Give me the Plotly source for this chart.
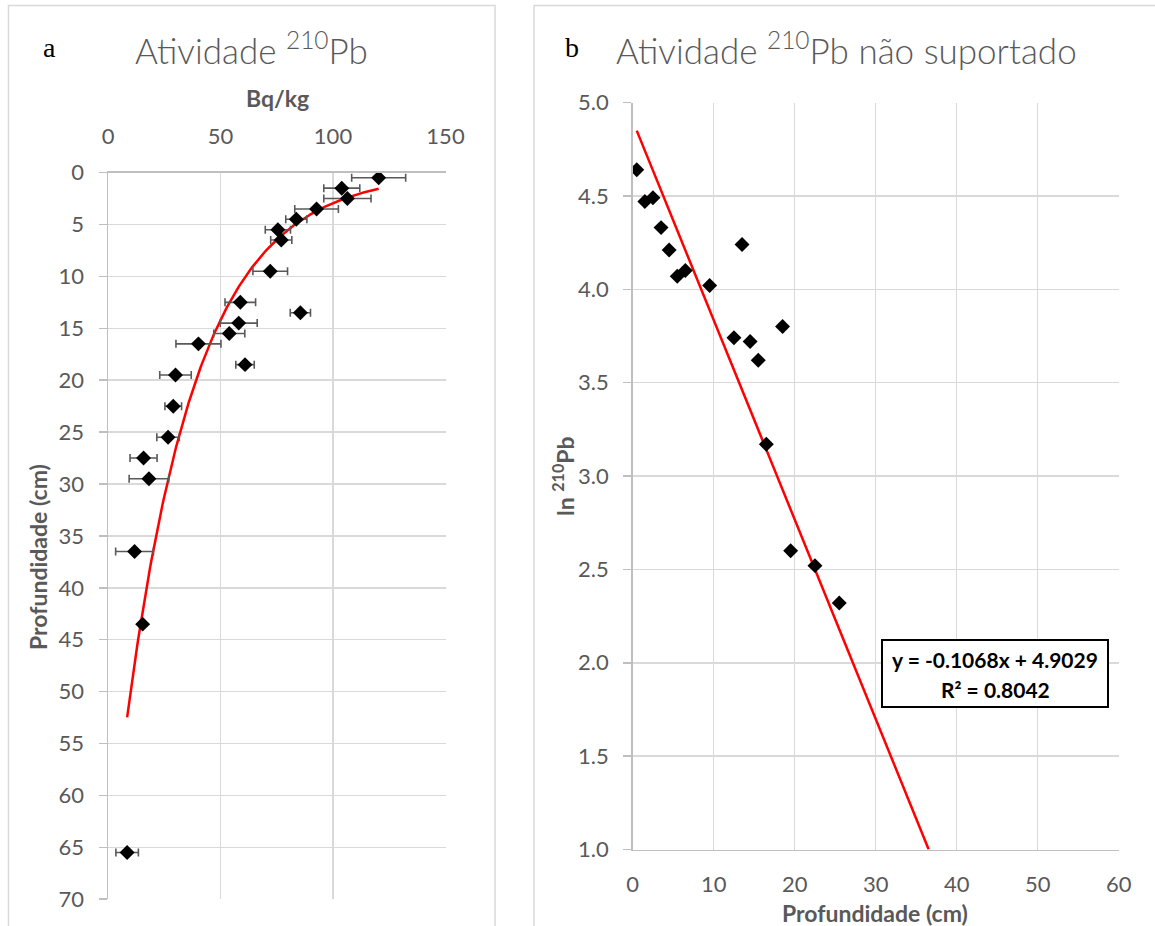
import numpy as np
import plotly.graph_objects as go

# ---------------- data ----------------
# Panel a: total 210Pb activity vs depth
depth_a = [0.5, 1.5, 2.5, 3.5, 4.5, 5.5, 6.5, 9.5, 12.5, 13.5, 14.5, 15.5, 16.5,
           18.5, 19.5, 22.5, 25.5, 27.5, 29.5, 36.5, 43.5, 65.5]
activity = [120.3, 103.9, 106.4, 92.7, 83.7, 75.5, 77.0, 72.1, 58.8, 85.5, 58.1,
            53.9, 40.2, 60.9, 30.0, 29.0, 26.7, 15.8, 18.2, 11.8, 15.4, 8.5]
activity_err = [12.0, 8.0, 10.5, 9.7, 4.7, 5.6, 4.7, 7.7, 6.8, 4.5, 8.2, 6.9, 10.0,
                4.1, 7.0, 3.7, 5.0, 6.0, 8.8, 8.4, 0.0, 5.0]
# exponential trendline (depth = A * exp(B * activity))
fit_a_coef = [68.6, -0.0315]

# Panel b: ln of unsupported 210Pb vs depth
depth_b = [0.5, 1.5, 2.5, 3.5, 4.5, 5.5, 6.5, 9.5, 12.5, 13.5, 14.5, 15.5, 16.5,
           18.5, 19.5, 22.5, 25.5]
ln_pb = [4.64, 4.47, 4.49, 4.33, 4.21, 4.07, 4.10, 4.02, 3.74, 4.24, 3.72, 3.62,
         3.17, 3.80, 2.60, 2.52, 2.32]
# linear trendline y = m x + c
fit_b_coef = [-0.1068, 4.9029]

xticks_a = [0, 50, 100, 150]
yticks_a = list(range(0, 75, 5))
xticks_b = [0, 10, 20, 30, 40, 50, 60]
yticks_b = [1.0, 1.5, 2.0, 2.5, 3.0, 3.5, 4.0, 4.5, 5.0]

# ---------------- layout helpers ----------------
W, H = 1155, 926
def px(x):
    return x / W
def py(y):
    return 1 - y / H

FONT = "Lato, 'Open Sans', sans-serif"
GRAY = "#595959"
GRID = "#D9D9D9"
AXL = "#BFBFBF"

fig = go.Figure()

# trendline a
xa = np.linspace(min(activity), max(activity), 200)
ya = fit_a_coef[0] * np.exp(fit_a_coef[1] * xa)
fig.add_trace(go.Scatter(x=xa, y=ya, mode="lines", line=dict(color="#FF0000", width=2.5),
                         xaxis="x", yaxis="y", hoverinfo="skip", showlegend=False))
fig.add_trace(go.Scatter(
    x=activity, y=depth_a, mode="markers",
    marker=dict(symbol="diamond", size=11.5, color="black"),
    error_x=dict(type="data", array=activity_err, color=GRAY, thickness=1.6, width=4),
    xaxis="x", yaxis="y", showlegend=False))

# trendline b
xb_end = (yticks_b[0] - fit_b_coef[1]) / fit_b_coef[0]
xb = np.array([min(depth_b), xb_end])
yb = fit_b_coef[0] * xb + fit_b_coef[1]
fig.add_trace(go.Scatter(x=xb, y=yb, mode="lines", line=dict(color="#FF0000", width=2.5),
                         xaxis="x2", yaxis="y2", hoverinfo="skip", showlegend=False))
fig.add_trace(go.Scatter(
    x=depth_b, y=ln_pb, mode="markers",
    marker=dict(symbol="diamond", size=11.5, color="black"),
    xaxis="x2", yaxis="y2", showlegend=False))

tickfont = dict(family=FONT, size=22, color=GRAY)

common = dict(showgrid=True, gridcolor=GRID, gridwidth=1.5,
              showline=True, linecolor=AXL, linewidth=1.5, zeroline=False,
              tickfont=tickfont, automargin=False, fixedrange=True)

fig.update_layout(
    width=W, height=H, autosize=False,
    margin=dict(l=0, r=0, t=0, b=0, pad=0),
    paper_bgcolor="white", plot_bgcolor="white",
    showlegend=False,
    xaxis=dict(domain=[px(108), px(445.5)], range=[0, 150], side="top",
               tickvals=xticks_a, ticktext=[str(v) for v in xticks_a],
               ticks="", ticklabelstandoff=18, anchor="y", **common),
    yaxis=dict(domain=[py(899.2), py(172.6)], range=[70, 0],
               tickvals=yticks_a, ticktext=[str(v) for v in yticks_a],
               ticks="outside", ticklen=8, tickcolor=AXL, tickwidth=1.5,
               ticklabelstandoff=10, anchor="x", **common),
    xaxis2=dict(domain=[px(632.7), px(1118.7)], range=[0, 60],
                tickvals=xticks_b, ticktext=[str(v) for v in xticks_b],
                ticks="", ticklabelstandoff=15, anchor="y2", **common),
    yaxis2=dict(domain=[py(849.5), py(102.5)], range=[1, 5],
                tickvals=yticks_b, ticktext=[f"{v:.1f}" for v in yticks_b],
                ticks="outside", ticklen=8, tickcolor=AXL, tickwidth=1.5,
                ticklabelstandoff=10, anchor="x2", **common),
)

# chart-area frames
fig.add_shape(type="rect", xref="paper", yref="paper",
              x0=px(8.5), x1=px(495), y0=py(940), y1=py(5.5),
              line=dict(color=GRID, width=1.5), layer="below")
fig.add_shape(type="rect", xref="paper", yref="paper",
              x0=px(534), x1=px(1170), y0=py(940), y1=py(5.5),
              line=dict(color=GRID, width=1.5), layer="below")

# equation box
fig.add_shape(type="rect", xref="paper", yref="paper",
              x0=px(882), x1=px(1108), y0=py(707), y1=py(640),
              line=dict(color="black", width=2), fillcolor="white", layer="above")

def ann(text, x, y, size, color=GRAY, family=FONT, angle=0, weight=None, xanchor="center"):
    f = dict(family=family, size=size, color=color)
    if weight is not None:
        f["weight"] = weight
    fig.add_annotation(text=text, x=px(x), y=py(y), xref="paper", yref="paper",
                       showarrow=False, font=f, textangle=angle,
                       xanchor=xanchor, yanchor="middle")

# titles
ann("Atividade <sup>210</sup>Pb", 251, 48, 35, weight=300)
ann("Atividade <sup>210</sup>Pb não suportado", 847, 48, 35, weight=300)
ann("a", 49, 48, 28, color="black", family="Liberation Serif, 'DejaVu Serif', serif")
ann("b", 572, 47, 28, color="black", family="Liberation Serif, 'DejaVu Serif', serif")

# axis titles
ann("<b>Bq/kg</b>", 277, 98, 23)
ann("<b>Profundidade (cm)</b>", 38, 557, 23, angle=-90)
ann("<b>Profundidade (cm)</b>", 875, 913, 23)
ann("<b>ln <sup>210</sup>Pb</b>", 563, 476, 23, angle=-90)

# equation text
ann("<b>y = -0.1068x + 4.9029</b>", 995, 659, 21, color="black")
ann("<b>R² = 0.8042</b>", 995, 689, 21, color="black")

# remove the default page margin so the figure sits at the window's top-left corner
fig.write_html("out.html",
               config={"displayModeBar": False, "staticPlot": True},
               post_script="document.body.style.margin='0px';"
                           "document.body.style.overflow='hidden';")
